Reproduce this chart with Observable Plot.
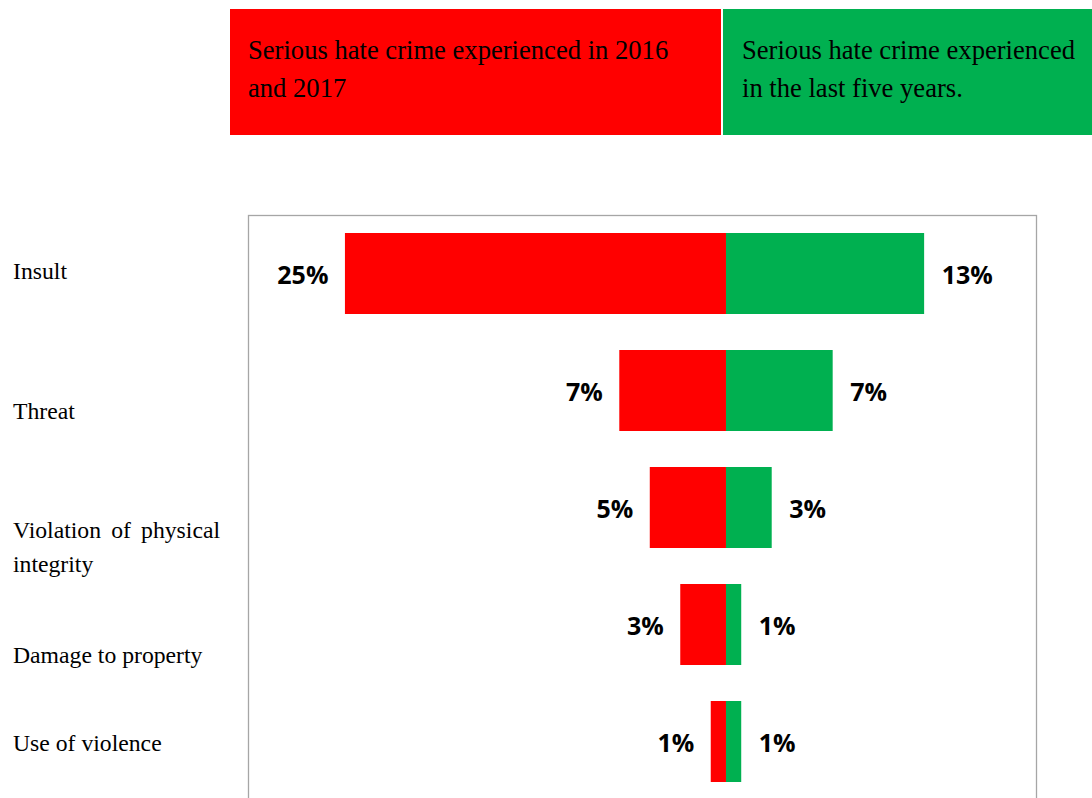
<!DOCTYPE html>
<html>
<head>
<meta charset="utf-8">
<script src="https://cdn.jsdelivr.net/npm/d3@7"></script>
<script src="https://cdn.jsdelivr.net/npm/@observablehq/plot@0.6"></script>
<style>
  html, body { margin: 0; padding: 0; background: #fff; width: 1092px; height: 798px; overflow: hidden; position: relative; }
  .hdr { position: absolute; top: 9px; height: 126px; box-sizing: border-box; font-family: "Liberation Serif", "Times New Roman", serif; font-size: 26.6px; line-height: 38px; color: #000; }
  #h1 { left: 230px; width: 491px; background: #FF0000; padding: 22px 30px 0 18px; }
  #h2 { left: 723px; width: 369px; background: #00B050; padding: 22px 6px 0 19px; }
  #plot { position: absolute; left: 0; top: 0; }
  .cat { position: absolute; left: 13px; width: 207px; font-family: "Liberation Serif", "Times New Roman", serif; font-size: 23.7px; line-height: 34px; color: #000; text-align: justify; text-align-last: left; }
</style>
</head>
<body>
<div id="h1" class="hdr"></div>
<div id="h2" class="hdr"></div>
<div id="plot"></div>
<div id="cats"></div>
<script>
const categories = ["Insult", "Threat", "Violation of physical integrity", "Damage to property", "Use of violence"];
const values2016_2017 = [25, 7, 5, 3, 1];
const valuesFiveYears = [13, 7, 3, 1, 1];
const seriesNames = ["Serious hate crime experienced in 2016 and 2017", "Serious hate crime experienced in the last five years."];
const seriesColors = ["#FF0000", "#00B050"];

// Header boxes (legend)
document.getElementById("h1").textContent = seriesNames[0];
document.getElementById("h2").textContent = seriesNames[1];

// Category labels (left column, positioned as in reference)
const catTops = [254, 394, 513, 638, 726];
const catsDiv = document.getElementById("cats");
categories.forEach((c, i) => {
  const d = document.createElement("div");
  d.className = "cat";
  d.style.top = catTops[i] + "px";
  d.textContent = c;
  catsDiv.appendChild(d);
});

const data = [];
categories.forEach((c, i) => {
  data.push({category: c, series: seriesNames[0], value: -values2016_2017[i], label: values2016_2017[i] + "%"});
  data.push({category: c, series: seriesNames[1], value: valuesFiveYears[i], label: valuesFiveYears[i] + "%"});
});
const left = data.filter(d => d.value < 0);
const right = data.filter(d => d.value > 0);

const chart = Plot.plot({
  width: 1092,
  height: 799,
  marginTop: 215,
  marginBottom: 0,
  marginLeft: 248,
  marginRight: 56,
  x: {domain: [-31.36, 20.34], axis: null},
  y: {domain: categories, axis: null, paddingInner: 0.31, paddingOuter: 0.15},
  color: {domain: seriesNames, range: seriesColors},
  style: {background: "transparent"},
  marks: [
    Plot.frame({stroke: "#a6a6a6", strokeWidth: 1.3}),
    Plot.barX(data, {x: "value", y: "category", fill: "series", inset: 0}),
    Plot.text(left, {x: "value", y: "category", text: "label", textAnchor: "end", dx: -17, dy: 2,
      fontFamily: "'Open Sans', sans-serif", fontWeight: "bold", fontSize: 25, fill: "#000"}),
    Plot.text(right, {x: "value", y: "category", text: "label", textAnchor: "start", dx: 17, dy: 2,
      fontFamily: "'Open Sans', sans-serif", fontWeight: "bold", fontSize: 25, fill: "#000"})
  ]
});
document.getElementById("plot").appendChild(chart);
</script>
</body>
</html>
